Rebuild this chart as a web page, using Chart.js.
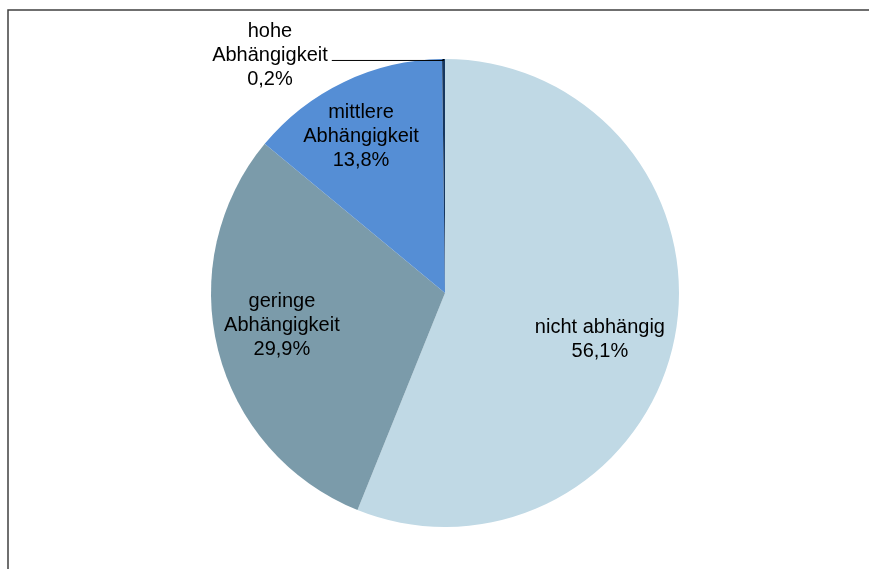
<!DOCTYPE html>
<html>
<head>
<meta charset="utf-8">
<script src="https://cdn.jsdelivr.net/npm/chart.js@4"></script>
<style>
    html, body { margin: 0; padding: 0; background: #fff; }
    #wrap { width: 869px; height: 569px; position: relative; }
</style>
</head>
<body>
<div id="wrap"><canvas id="pieChart"></canvas></div>
<script>
// Abhängigkeit - Anteile (Kreisdiagramm)
var categories = ['nicht abhängig', 'geringe Abhängigkeit', 'mittlere Abhängigkeit', 'hohe Abhängigkeit'];
var labelLines = [['nicht abhängig'], ['geringe', 'Abhängigkeit'], ['mittlere', 'Abhängigkeit'], ['hohe', 'Abhängigkeit']];
var shares = [56.1, 29.9, 13.8, 0.2];
var colors = ['#c0d9e5', '#7b9baa', '#558ed5', '#17375e'];

// Lage der Beschriftung relativ zum Mittelpunkt, in Radien
var labelOffsets = [[0.662, 0.197], [-0.697, 0.137], [-0.359, -0.667], [-0.748, -1.013]];

function fmtPct(v) { return v.toFixed(1).replace('.', ',') + '%'; }

var framePlugin = {
    id: 'frame',
    beforeDraw: function (chart) {
        var ctx = chart.ctx;
        ctx.save();
        ctx.strokeStyle = '#404040';
        ctx.lineWidth = 1.5;
        ctx.beginPath();
        ctx.moveTo(8, chart.height);
        ctx.lineTo(8, 10);
        ctx.lineTo(chart.width, 10);
        ctx.stroke();
        ctx.restore();
    }
};

var labelPlugin = {
    id: 'sliceLabels',
    afterDatasetsDraw: function (chart) {
        var ctx = chart.ctx;
        var arcs = chart.getDatasetMeta(0).data;
        ctx.save();
        ctx.font = '20px "Liberation Sans", Arial, sans-serif';
        ctx.fillStyle = '#000';
        ctx.textAlign = 'center';
        ctx.textBaseline = 'middle';
        var lineH = 24;
        arcs.forEach(function (arc, i) {
            var p = arc.getProps(['x', 'y', 'outerRadius', 'startAngle', 'endAngle'], true);
            var lines = labelLines[i].concat([fmtPct(shares[i])]);
            var cx = p.x + labelOffsets[i][0] * p.outerRadius;
            var cy = p.y + labelOffsets[i][1] * p.outerRadius;
            var y0 = cy - (lines.length - 1) * lineH / 2;
            lines.forEach(function (t, k) { ctx.fillText(t, cx, y0 + k * lineH); });

            // Führungslinie für Beschriftung außerhalb des Kreises
            if (Math.abs(labelOffsets[i][1]) > 1) {
                var mid = (p.startAngle + p.endAngle) / 2;
                var ex = p.x + Math.cos(mid) * p.outerRadius;
                var ey = p.y + Math.sin(mid) * p.outerRadius;
                var w = ctx.measureText(labelLines[i][1]).width;
                ctx.strokeStyle = '#000';
                ctx.lineWidth = 1;
                ctx.beginPath();
                ctx.moveTo(cx + w / 2 + 4, cy + 4.5);
                ctx.lineTo(ex, cy + 4.5);
                ctx.lineTo(ex, ey);
                ctx.stroke();
            }
        });
        ctx.restore();
    }
};

new Chart(document.getElementById('pieChart').getContext('2d'), {
    type: 'pie',
    data: {
        labels: categories,
        datasets: [{
            data: shares,
            backgroundColor: colors,
            borderWidth: 0,
            hoverOffset: 0
        }]
    },
    options: {
        responsive: true,
        maintainAspectRatio: false,
        animation: false,
        layout: { padding: { top: 59, bottom: 42, left: 211, right: 190 } },
        plugins: {
            legend: { display: false },
            tooltip: { enabled: false }
        }
    },
    plugins: [framePlugin, labelPlugin]
});
</script>
</body>
</html>
